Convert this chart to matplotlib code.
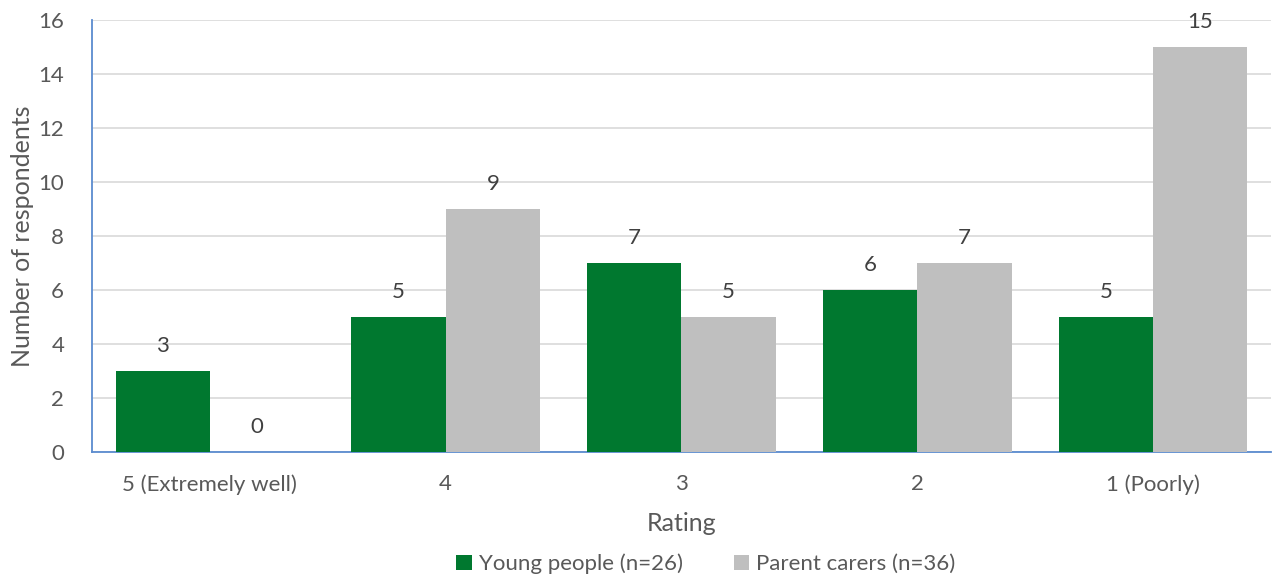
import numpy as np
import matplotlib.pyplot as plt

categories = ['5 (Extremely well)', '4', '3', '2', '1 (Poorly)']
young_people = [3, 5, 7, 6, 5]
parent_carers = [0, 9, 5, 7, 15]

plt.rcParams['font.family'] = ['Lato', 'DejaVu Sans']
txt = '#595959'

fig = plt.figure(figsize=(12.74, 5.74), dpi=100)
ax = fig.add_axes([0.0722, 0.2125, 0.9254, 0.7527])

x = np.arange(len(categories))
w = 0.4
b1 = ax.bar(x - w/2, young_people, w, color='#00782F', label='Young people (n=26)', zorder=3)
b2 = ax.bar(x + w/2, parent_carers, w, color='#BFBFBF', label='Parent carers (n=36)', zorder=3)

for bars in (b1, b2):
    for b in bars:
        ax.annotate(f'{int(b.get_height())}', (b.get_x() + b.get_width()/2, b.get_height()),
                    xytext=(0, 11), textcoords='offset points', ha='center', va='bottom',
                    fontsize=16, color='#404040')

ax.set_xlim(-0.5, len(categories) - 0.5)
ax.set_ylim(0, 16)
ax.set_yticks(range(0, 17, 2))
ax.set_xticks(x)
ax.set_xticklabels(categories)
ax.tick_params(axis='both', length=0, labelsize=16, labelcolor=txt)
ax.tick_params(axis='x', pad=16)
ax.tick_params(axis='y', pad=20)
ax.grid(axis='y', color='#D9D9D9', linewidth=1.2, zorder=0)
for s in ['top', 'right']:
    ax.spines[s].set_visible(False)
for s in ['left', 'bottom']:
    ax.spines[s].set_color('#5B8BCF')
    ax.spines[s].set_linewidth(1.3)

ax.set_xlabel('Rating', fontsize=18, color=txt, labelpad=12)
ax.set_ylabel('Number of respondents', fontsize=18, color=txt, labelpad=3)

fig.legend(handles=[b1, b2], loc='lower center', bbox_to_anchor=(0.554, -0.035), ncol=2,
           frameon=False, fontsize=16, labelcolor=txt, handlelength=0.7, handleheight=0.7,
           handletextpad=0.3, columnspacing=2.3)

plt.savefig('out.png', dpi=100)
